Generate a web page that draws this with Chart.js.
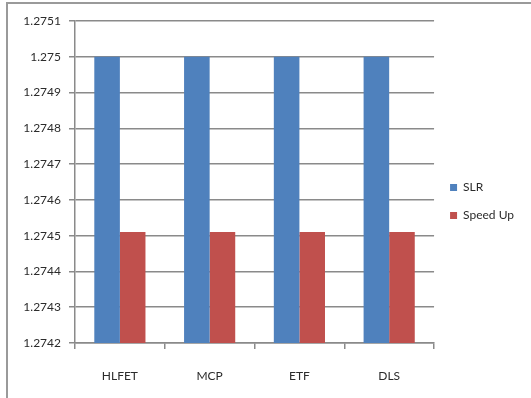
<!DOCTYPE html>
<html>
<head>
<meta charset="utf-8">
<script src="https://cdn.jsdelivr.net/npm/chart.js@4/dist/chart.umd.min.js"></script>
<style>
  html, body { margin: 0; padding: 0; background: #fff; }
  body { width: 531px; height: 398px; position: relative; overflow: hidden; }
  .frame { position: absolute; left: 6px; top: 2px; width: 560px; height: 420px; border: 2px solid #9a9a9a; box-sizing: border-box; }
  .wrap { position: absolute; left: 0; top: 0; width: 531px; height: 398px; }
</style>
</head>
<body>
<div class="frame"></div>
<div class="wrap"><canvas id="grafico"></canvas></div>
<script>
// categorias e séries
const categorias = ['HLFET', 'MCP', 'ETF', 'DLS'];
const valoresSLR = [1.275, 1.275, 1.275, 1.275];
const valoresSpeedUp = [1.27451, 1.27451, 1.27451, 1.27451];
const ticksY = [1.2742, 1.2743, 1.2744, 1.2745, 1.2746, 1.2747, 1.2748, 1.2749, 1.275, 1.2751];

const corTexto = '#2b2b2b';
const corGrade = '#8a8a8a';
const fonte = { family: 'Lato', size: 12 };

const dados = {
    labels: categorias,
    datasets: [
        { label: 'SLR', data: valoresSLR, backgroundColor: '#4f81bd' },
        { label: 'Speed Up', data: valoresSpeedUp, backgroundColor: '#c0504d' }
    ]
};

const config = {
    type: 'bar',
    data: dados,
    options: {
        responsive: false,
        animation: false,
        layout: { padding: { left: 14, top: 21, right: 7, bottom: 16 } },
        datasets: { bar: { categoryPercentage: 0.57, barPercentage: 1 } },
        plugins: {
            legend: {
                position: 'right',
                labels: {
                    boxWidth: 7,
                    boxHeight: 7,
                    padding: 16,
                    color: corTexto,
                    font: fonte
                }
            },
            tooltip: { enabled: false }
        },
        scales: {
            x: {
                afterFit: (escala) => { escala.height = 39; },
                grid: {
                    offset: true,
                    drawOnChartArea: false,
                    drawTicks: true,
                    tickLength: 6,
                    color: corGrade,
                    lineWidth: 1.5
                },
                border: { color: corGrade, width: 1.5 },
                ticks: { color: corTexto, font: fonte, padding: 20 }
            },
            y: {
                min: ticksY[0],
                max: ticksY[ticksY.length - 1],
                afterBuildTicks: (escala) => {
                    escala.ticks = ticksY.map(v => ({ value: v }));
                },
                afterFit: (escala) => { escala.width = 61; },
                grid: {
                    color: corGrade,
                    lineWidth: 1.5,
                    drawTicks: true,
                    tickLength: 6
                },
                border: { color: corGrade, width: 1.5 },
                ticks: {
                    color: corTexto,
                    font: fonte,
                    padding: 8,
                    callback: (v) => Number(v.toFixed(4)).toString()
                }
            }
        }
    }
};

const ctx = document.getElementById('grafico');
ctx.width = 531;
ctx.height = 398;
new Chart(ctx, config);
</script>
</body>
</html>
